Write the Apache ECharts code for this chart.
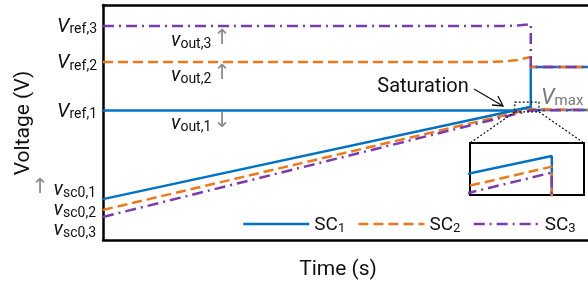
<!DOCTYPE html>
<html><head><meta charset="utf-8">
<script src="https://cdn.jsdelivr.net/npm/echarts@6/dist/echarts.min.js"></script>
<style>html,body{margin:0;padding:0;background:#fff}#c{width:588px;height:289px}</style>
</head><body><div id="c"></div>
<script>
// ---- data (arbitrary time / voltage units) ----
const tSat = 8.82, tEnd = 10;
const vRef = [5.51, 7.57, 9.11];
const vSc0 = [1.74, 1.28, 0.98];
const vScSat = [5.66, 5.57, 5.52];
const vMax = 5.53;
const vAfter = 7.36;
const sc1Out = [[0, 5.51], [8.48, 5.51], [8.82, 5.66], [8.82, 7.36], [10, 7.36]];
const sc2Out = [[0, 7.57], [7.92, 7.57], [8.25, 7.6], [8.55, 7.66], [8.82, 7.79], [8.82, 7.36], [10, 7.36]];
const sc3Out = [[0, 9.11], [8.25, 9.11], [8.55, 9.13], [8.75, 9.17], [8.82, 9.2], [8.82, 7.36], [10, 7.36]];
const names = ['SC1', 'SC2', 'SC3'];
const colors = ['#0072C6', '#F07818', '#7B3AAE'];
const dashes = ['solid', [10, 5], [11, 5, 2, 5]];
const zoomBox = [[8.49, 5.87], [8.99, 5.45]];
const insetX = [8.49, 8.95], insetY = [5.33, 5.77];

const outs = [sc1Out, sc2Out, sc3Out];
const series = [];
for (let i = 0; i < 3; i++) {
  const ls = { color: colors[i], width: 2.5, type: dashes[i] };
  series.push({ type: 'line', name: names[i], data: outs[i], symbol: 'none', lineStyle: ls, itemStyle: { color: colors[i] }, xAxisIndex: 0, yAxisIndex: 0, z: 2 + i });
  series.push({ type: 'line', name: names[i], data: [[0, vSc0[i]], [tSat, vScSat[i]], [tSat, vMax], [tEnd, vMax]], symbol: 'none', lineStyle: ls, itemStyle: { color: colors[i] }, xAxisIndex: 0, yAxisIndex: 0, z: 2 + i });
  series.push({ type: 'line', name: 'inset' + i, data: [[0, vSc0[i]], [tSat, vScSat[i]], [tSat, 0]], symbol: 'none', lineStyle: { color: colors[i], width: 2.5, type: dashes[i] }, xAxisIndex: 1, yAxisIndex: 1, z: 12 + i, clip: true });
}

const chart = echarts.init(document.getElementById('c'), null, { renderer: 'canvas' });
const F = 'Roboto';
const blackLine = { show: true, onZero: false, lineStyle: { color: '#000', width: 2.5 } };
const hid = { axisTick: { show: false }, axisLabel: { show: false }, splitLine: { show: false } };
chart.setOption({
  animation: false,
  backgroundColor: '#fff',
  textStyle: { fontFamily: F },
  grid: [
    { left: 103, top: 5, right: 0, bottom: 49, show: false },
    { left: 470, top: 143, width: 114, height: 52, show: true, borderColor: '#000', borderWidth: 2, backgroundColor: '#fff', z: 10 }
  ],
  xAxis: [
    Object.assign({ type: 'value', gridIndex: 0, min: 0, max: 10, position: 'bottom', axisLine: blackLine }, hid),
    { type: 'value', gridIndex: 1, min: insetX[0], max: insetX[1], show: false },
    Object.assign({ type: 'value', gridIndex: 0, min: 0, max: 10, position: 'top', axisLine: blackLine }, hid)
  ],
  yAxis: [
    Object.assign({ type: 'value', gridIndex: 0, min: 0, max: 10, position: 'left', axisLine: blackLine }, hid),
    { type: 'value', gridIndex: 1, min: insetY[0], max: insetY[1], show: false }
  ],
  legend: {
    data: names, left: 237, top: 211, itemWidth: 66, itemHeight: 14, itemGap: 12,
    itemStyle: { opacity: 0, borderWidth: 0 },
    lineStyle: { width: 2.5 },
    formatter: n => '{a|SC}{b|' + n.slice(2) + '}',
    textStyle: { color: '#111', rich: { a: { fontSize: 19, fontFamily: F, color: '#111', lineHeight: 22, verticalAlign: 'bottom' }, b: { fontSize: 13, fontFamily: F, color: '#111', lineHeight: 10, verticalAlign: 'bottom' } } }
  },
  series: series
});

const P = (p) => chart.convertToPixel({ gridIndex: 0 }, p);
const subRich = (big, small, col) => ({
  B: { fontSize: big, fontFamily: F, fontStyle: 'italic', fill: col, lineHeight: big + 2, verticalAlign: 'bottom' },
  s: { fontSize: small, fontFamily: F, fill: col, lineHeight: 9, verticalAlign: 'bottom' }
});
const g = [];
function lab(text, x, y, align, big, small, col) {
  g.push({ type: 'text', z: 50, style: { text: text, x: x, y: y, align: align, verticalAlign: 'middle', fill: col || '#111', rich: subRich(big, small, col || '#111') } });
}
// Vref labels
for (let i = 0; i < 3; i++) {
  const py = P([0, vRef[i]])[1];
  lab('{B|V}{s|ref,' + (i + 1) + '}', 97, py, 'right', 20, 14);
}
// vsc0 labels
const scY = [189, 209, 229];
for (let i = 0; i < 3; i++) lab('{B|v}{s|sc0,' + (i + 1) + '}', 96, scY[i], 'right', 20, 14);
// vout labels
const outY = [123, 75, 40];
for (let i = 0; i < 3; i++) lab('{B|v}{s|out,' + (i + 1) + '}', 171, outY[i], 'left', 20, 14);
// gray arrows
const arrow = (ch, x, y) => g.push({ type: 'text', z: 50, style: { text: ch, x: x, y: y, align: 'center', verticalAlign: 'middle', fontSize: 21, fontFamily: 'DejaVu Sans', fill: '#8a8a8a' } });
arrow('↓', 222, 122); arrow('↑', 222, 74); arrow('↑', 222, 39); arrow('↑', 40, 188);
// Vmax
lab('{B|V}{s|max}', 541, 97, 'left', 22, 15, '#777');
// Saturation
g.push({ type: 'text', z: 50, style: { text: 'Saturation', x: 423, y: 87, align: 'center', verticalAlign: 'middle', fontSize: 20, fontFamily: F, fill: '#111' } });
g.push({ type: 'line', z: 50, shape: { x1: 474, y1: 89, x2: 503, y2: 106 }, style: { stroke: '#111', lineWidth: 1.3 } });
g.push({ type: 'polyline', z: 50, shape: { points: [[492, 105], [503, 106], [498, 96]] }, style: { stroke: '#111', lineWidth: 1.3, fill: null } });
// zoom box + connectors
const a = P(zoomBox[0]), b = P(zoomBox[1]);
const dash = { stroke: '#111', lineWidth: 1.2, lineDash: [2, 2], fill: null };
g.push({ type: 'rect', z: 40, shape: { x: a[0], y: a[1], width: b[0] - a[0], height: b[1] - a[1] }, style: dash });
g.push({ type: 'line', z: 40, shape: { x1: a[0], y1: b[1], x2: 470, y2: 143 }, style: dash });
g.push({ type: 'line', z: 40, shape: { x1: b[0], y1: b[1], x2: 584, y2: 143 }, style: dash });
// axis titles
g.push({ type: 'text', z: 50, style: { text: 'Time (s)', x: 338, y: 270, align: 'center', verticalAlign: 'middle', fontSize: 21, fontFamily: F, fill: '#111' } });
g.push({ type: 'text', z: 50, rotation: Math.PI / 2, x: 24, y: 123, style: { text: 'Voltage (V)', x: 0, y: 0, align: 'center', verticalAlign: 'middle', fontSize: 21, fontFamily: F, fill: '#111' } });
chart.setOption({ graphic: g });
</script></body></html>
